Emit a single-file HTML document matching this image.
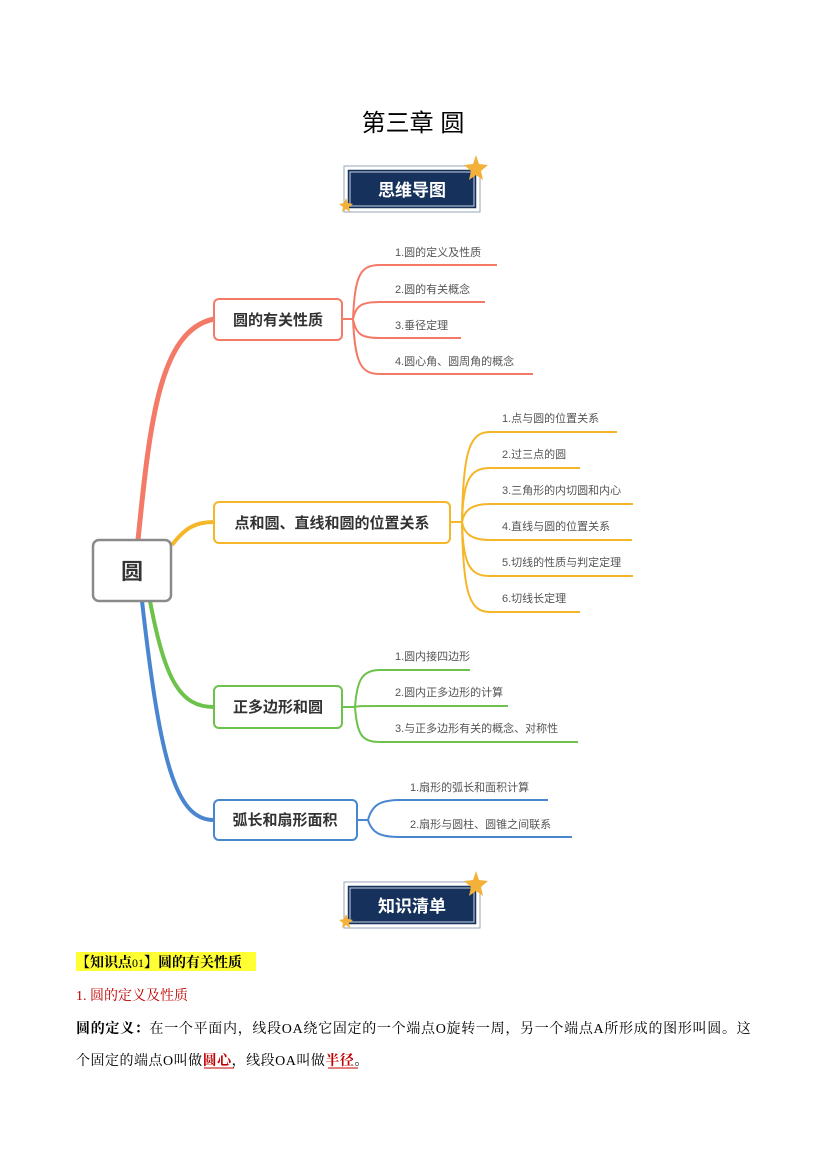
<!DOCTYPE html>
<html><head><meta charset="utf-8"><style>
body{margin:0;background:#fff;}
svg{display:block}
</style></head><body>
<svg width="827" height="1169" viewBox="0 0 827 1169" xmlns="http://www.w3.org/2000/svg" font-family="Liberation Sans, Noto Sans CJK SC, sans-serif">
<text x="413" y="131" text-anchor="middle" font-size="24" fill="#000" font-family="Liberation Sans, Noto Sans CJK SC, sans-serif">第三章  圆</text>

<!-- banner 1 -->
<g>
<rect x="344" y="166" width="136" height="46" fill="#fff" stroke="#9aa6b8" stroke-width="1"/>
<rect x="347" y="169" width="130" height="40" fill="#15315c" stroke="#fff" stroke-width="1.5"/>
<rect x="350" y="172" width="124" height="34" fill="none" stroke="#c9d3e3" stroke-width="1"/>
<text x="412" y="196" text-anchor="middle" font-size="17" font-weight="bold" fill="#fff">思维导图</text>
<polygon points="476,155 479,164 488,165 481,171 483,180 476,175 469,180 471,171 464,165 473,164" fill="#f4b13a"/>
<polygon points="346,198 348,203 353,204 349,207 350,212 346,209 342,212 343,207 339,204 344,203" fill="#f4b13a"/>
</g>

<!-- connectors main -->
<path d="M138,540 C150,420 160,330 214,319" fill="none" stroke="#f47a68" stroke-width="5"/>
<path d="M172,545 C185,528 195,522 214,522" fill="none" stroke="#f5b62a" stroke-width="4"/>
<path d="M150,601 C165,680 180,707 214,707" fill="none" stroke="#6cc24a" stroke-width="4"/>
<path d="M142,601 C160,760 175,820 214,820" fill="none" stroke="#4a86d0" stroke-width="4"/>

<!-- root -->
<rect x="93" y="540" width="78" height="61" rx="6" fill="#fff" stroke="#8a8a8a" stroke-width="2.5"/>
<text x="132" y="579" text-anchor="middle" font-size="22" font-weight="bold" fill="#333">圆</text>

<!-- branch 1 -->
<g fill="none" stroke="#f47a68" stroke-width="2">
<path d="M342,319 H353"/>
<path d="M353,319 C355,275 360,265 380,265 H497"/>
<path d="M353,319 C356,305 362,302 380,302 H485"/>
<path d="M353,319 C356,335 362,338 380,338 H461"/>
<path d="M353,319 C355,362 360,374 380,374 H533"/>
</g>
<rect x="214" y="299" width="128" height="41" rx="5" fill="#fff" stroke="#f47a68" stroke-width="2"/>
<text x="278" y="325" text-anchor="middle" font-size="15" font-weight="bold" fill="#333">圆的有关性质</text>
<g font-size="11" fill="#555">
<text x="395" y="256">1.圆的定义及性质</text>
<text x="395" y="293">2.圆的有关概念</text>
<text x="395" y="329">3.垂径定理</text>
<text x="395" y="365">4.圆心角、圆周角的概念</text>
</g>

<!-- branch 2 -->
<g fill="none" stroke="#f5b62a" stroke-width="2">
<path d="M450,522 H462"/>
<path d="M462,522 C463,450 470,432 490,432 H617"/>
<path d="M462,522 C463,480 470,468 490,468 H580"/>
<path d="M462,522 C464,510 472,504 490,504 H633"/>
<path d="M462,522 C464,534 472,540 490,540 H632"/>
<path d="M462,522 C463,565 470,576 490,576 H633"/>
<path d="M462,522 C463,595 470,612 490,612 H580"/>
</g>
<rect x="214" y="502" width="236" height="41" rx="5" fill="#fff" stroke="#f5b62a" stroke-width="2"/>
<text x="332" y="528" text-anchor="middle" font-size="15" font-weight="bold" fill="#333">点和圆、直线和圆的位置关系</text>
<g font-size="11" fill="#555">
<text x="502" y="422">1.点与圆的位置关系</text>
<text x="502" y="458">2.过三点的圆</text>
<text x="502" y="494">3.三角形的内切圆和内心</text>
<text x="502" y="530">4.直线与圆的位置关系</text>
<text x="502" y="566">5.切线的性质与判定定理</text>
<text x="502" y="602">6.切线长定理</text>
</g>

<!-- branch 3 -->
<g fill="none" stroke="#6cc24a" stroke-width="2">
<path d="M342,707 H355"/>
<path d="M355,707 C357,680 362,670 380,670 H470"/>
<path d="M355,707 C357,706 362,706 380,706 H508"/>
<path d="M355,707 C357,735 362,742 380,742 H578"/>
</g>
<rect x="214" y="686" width="128" height="42" rx="5" fill="#fff" stroke="#6cc24a" stroke-width="2"/>
<text x="278" y="712" text-anchor="middle" font-size="15" font-weight="bold" fill="#333">正多边形和圆</text>
<g font-size="11" fill="#555">
<text x="395" y="660">1.圆内接四边形</text>
<text x="395" y="696">2.圆内正多边形的计算</text>
<text x="395" y="732">3.与正多边形有关的概念、对称性</text>
</g>

<!-- branch 4 -->
<g fill="none" stroke="#4a86d0" stroke-width="2">
<path d="M357,820 H368"/>
<path d="M368,820 C372,805 380,800 400,800 H548"/>
<path d="M368,820 C372,833 380,837 400,837 H572"/>
</g>
<rect x="214" y="800" width="143" height="40" rx="5" fill="#fff" stroke="#4a86d0" stroke-width="2"/>
<text x="285" y="825" text-anchor="middle" font-size="15" font-weight="bold" fill="#333">弧长和扇形面积</text>
<g font-size="11" fill="#555">
<text x="410" y="791">1.扇形的弧长和面积计算</text>
<text x="410" y="828">2.扇形与圆柱、圆锥之间联系</text>
</g>

<!-- banner 2 -->
<g>
<rect x="344" y="882" width="136" height="46" fill="#fff" stroke="#9aa6b8" stroke-width="1"/>
<rect x="347" y="885" width="130" height="40" fill="#15315c" stroke="#fff" stroke-width="1.5"/>
<rect x="350" y="888" width="124" height="34" fill="none" stroke="#c9d3e3" stroke-width="1"/>
<text x="412" y="912" text-anchor="middle" font-size="17" font-weight="bold" fill="#fff">知识清单</text>
<polygon points="476,871 479,880 488,881 481,887 483,896 476,891 469,896 471,887 464,881 473,880" fill="#f4b13a"/>
<polygon points="346,914 348,919 353,920 349,923 350,928 346,925 342,928 343,923 339,920 344,919" fill="#f4b13a"/>
</g>

<!-- text section -->
<rect x="76" y="952" width="180" height="19" fill="#ffff33"/>
<text x="76" y="967" font-size="14" font-weight="bold" fill="#000" font-family="Liberation Serif, Noto Serif CJK SC, serif">【知识点<tspan font-weight="normal" font-size="12">01</tspan>】圆的有关性质</text>
<text x="76" y="1000" font-size="14" fill="#c00000" font-family="Liberation Serif, Noto Serif CJK SC, serif">1. 圆的定义及性质</text>
<text x="76" y="1033" font-size="14" fill="#000" letter-spacing="0.7" font-family="Liberation Serif, Noto Serif CJK SC, serif"><tspan font-weight="bold">圆的定义：</tspan>在一个平面内，线段OA绕它固定的一个端点O旋转一周，另一个端点A所形成的图形叫圆。这</text>
<text x="76" y="1065" font-size="14" fill="#000" letter-spacing="0.5" font-family="Liberation Serif, Noto Serif CJK SC, serif">个固定的端点O叫做<tspan fill="#c00000" font-weight="bold">圆心</tspan>，线段OA叫做<tspan fill="#c00000" font-weight="bold">半径</tspan>。</text>
<line x1="204" y1="1068" x2="234" y2="1068" stroke="#c00000" stroke-width="1"/>
<line x1="328" y1="1068" x2="358" y2="1068" stroke="#c00000" stroke-width="1"/>
</svg>
</body></html>
